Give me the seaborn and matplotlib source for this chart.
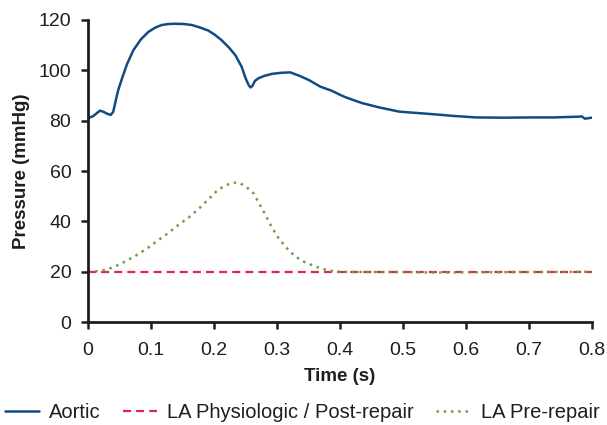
import matplotlib
matplotlib.use('Agg')
import matplotlib.pyplot as plt
import numpy as np
import pandas as pd
import seaborn as sn

# Aortic pressure trace
aorticT=[0,0.008,0.014,0.019,0.024,0.03,0.036,0.04,0.044,0.048,0.055,0.062,0.072,0.084,0.096,0.107,0.117,0.128,0.138,
         0.152,0.165,0.178,0.191,0.202,0.212,0.224,0.234,0.244,0.25,0.255,0.258,0.261,0.265,0.271,0.28,0.292,
         0.306,0.321,0.336,0.351,0.36,0.369,0.387,0.4,0.409,0.435,0.462,0.494,0.547,0.58,0.616,
         0.66,0.706,0.74,0.779,0.784,0.789,0.80]
aorticP=[81,81.8,83,84,83.6,82.8,82.3,83.5,88,92.2,97.5,102.5,108,112.3,115.3,117,118,118.4,118.5,
         118.4,118,117,115.8,114,112,109,106,101.4,97,94.2,93.2,93.8,95.8,96.9,97.8,98.6,
         99,99.2,97.8,96.1,94.8,93.5,91.9,90.3,89.3,87,85.3,83.6,82.6,81.9,81.3,
         81.2,81.3,81.3,81.6,81.7,80.8,81.2]

# LA physiologic / post-repair (flat)
laPostT=[0,0.8]
laPostP=[20,20]

# LA pre-repair
laPreT=[0,0.013,0.027,0.04,0.053,0.077,0.095,0.112,0.128,0.143,0.16,0.175,0.19,0.205,0.217,0.227,
        0.235,0.242,0.252,0.263,0.272,0.282,0.292,0.303,0.316,0.329,0.343,0.356,0.368,0.38,0.393,
        0.45,0.5,0.55,0.6,0.7,0.8]
laPreP=[20,20.2,20.7,21.8,23.3,26.6,29.5,32.6,35.5,38.5,41.6,44.8,48.5,52.2,54.2,55.1,
        55.4,55.1,53.6,51.1,47,42.5,37.6,33.2,29.3,26.1,24,22.6,21.5,20.7,20,
        19.9,19.9,19.7,19.8,19.9,20]

BLUE='#0f4c84'; RED='#dc2a4f'; GREEN='#6ea043'; INK='#1e1e1e'

sn.set_style('ticks')
plt.rcParams['font.family']=['Liberation Sans','DejaVu Sans']

fig=plt.figure(figsize=(6.07,4.25),dpi=100)
ax=fig.add_axes([0.145,0.242,0.830,0.711])

sn.lineplot(x=aorticT,y=aorticP,ax=ax,color=BLUE,linewidth=1.8,label='Aortic')
sn.lineplot(x=laPostT,y=laPostP,ax=ax,color=RED,linewidth=1.6,linestyle=(0,(3.6,2.3)),
            label='LA Physiologic / Post-repair')
sn.lineplot(x=laPreT,y=laPreP,ax=ax,color=GREEN,linewidth=1.8,linestyle=(0,(1,1.9)),
            label='LA Pre-repair')

ax.set_xlim(0,0.8)
ax.set_ylim(0,120)
ax.set_xticks(np.arange(0,0.81,0.1))
ax.set_xticklabels(['0','0.1','0.2','0.3','0.4','0.5','0.6','0.7','0.8'])
ax.set_yticks(np.arange(0,121,20))
ax.tick_params(labelsize=14,width=1.8,length=5,colors=INK,labelcolor=INK)
ax.tick_params(axis='x',pad=9)
ax.tick_params(axis='y',pad=7)
for s in ['left','bottom']:
    ax.spines[s].set_linewidth(2)
    ax.spines[s].set_color(INK)
sn.despine(ax=ax)
ax.set_xlabel('Time (s)',fontsize=13.5,fontweight='bold',color=INK,labelpad=7)
ax.set_ylabel('Pressure (mmHg)',fontsize=13.5,fontweight='bold',color=INK,labelpad=6)

ax.legend(loc='center',bbox_to_anchor=(0.425,-0.30),ncol=3,frameon=False,fontsize=14.5,
          handlelength=1.7,columnspacing=1.1,handletextpad=0.5,labelcolor=INK,
          borderaxespad=0,borderpad=0)

plt.savefig('out.png',dpi=100)
